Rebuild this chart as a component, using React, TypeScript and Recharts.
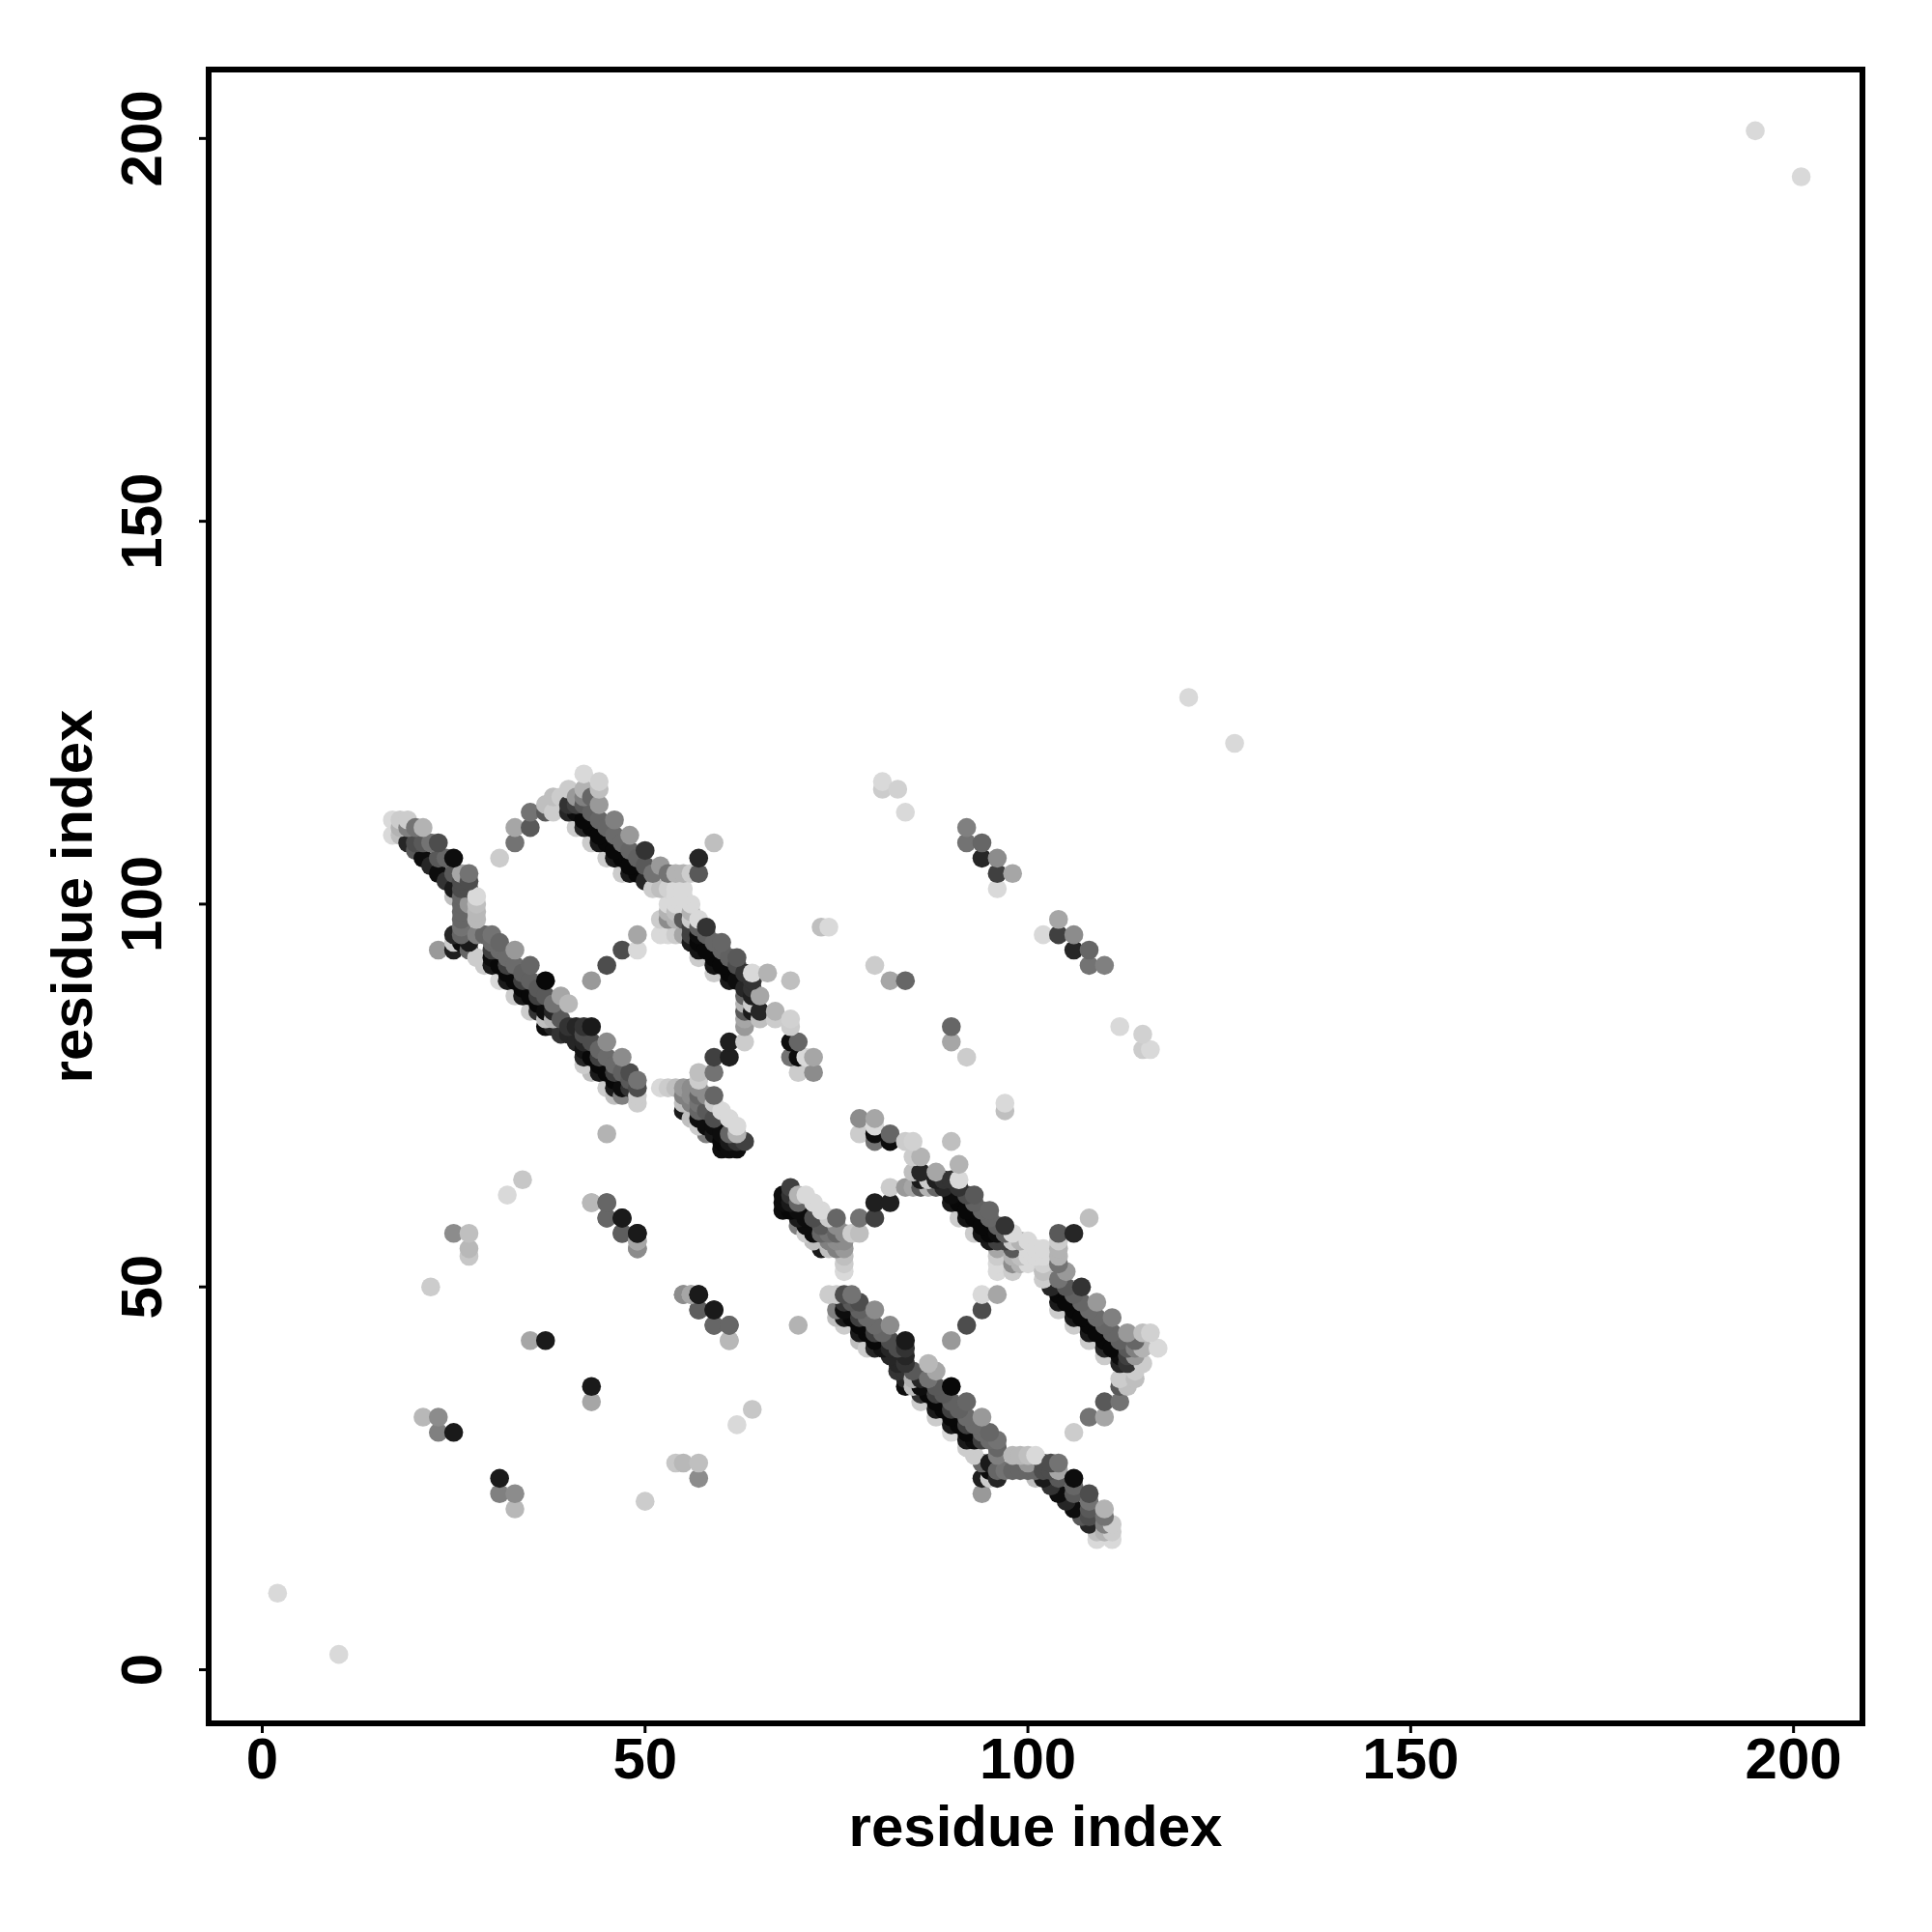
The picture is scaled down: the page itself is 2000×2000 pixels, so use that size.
import { ScatterChart, Scatter, XAxis, YAxis, ReferenceArea, Label } from 'recharts'

// contact map: [i, j, shade] with i < j, shade 0 = black, 1 = white
type Contact = [number, number, number]

const tickValues = [0, 50, 100, 150, 200]

const strandA: Contact[] = [
  [17, 111, 0.85], [18, 111, 0.8], [19, 111, 0.8], [17, 109, 0.85], [18, 109, 0.75], [18, 110, 0.7],
  [19, 110, 0.5], [20, 110, 0.45], [21, 110, 0.7], [19, 108, 0.15], [20, 107, 0.35], [20, 108, 0.3],
  [21, 108, 0.35], [22, 108, 0.45], [23, 108, 0.3], [21, 106, 0.05], [22, 105, 0.15],
  [23, 106, 0.35], [24, 106, 0.4], [25, 106, 0.05], [23, 104, 0.05], [25, 104, 0.35],
  [26, 104, 0.65], [27, 104, 0.45], [24, 103, 0.2], [25, 102, 0.1], [26, 102, 0.3], [27, 102, 0.3],
  [26, 103, 0.3], [27, 103, 0.3], [25, 101, 0.75], [26, 101, 0.4], [26, 100, 0.4], [26, 99, 0.4],
  [26, 98, 0.4], [26, 97, 0.45], [27, 100, 0.6], [28, 101, 0.85], [28, 100, 0.75], [28, 99, 0.72],
  [28, 98, 0.72], [28, 96, 0.5], [27, 95, 0.1], [26, 96, 0.4], [26, 95, 0.05], [25, 96, 0.15],
  [25, 94, 0.12], [25, 95, 0.8], [23, 94, 0.6], [27, 94, 0.4], [28, 93, 0.8],
]

const strandB: Contact[] = [
  [30, 96, 0.45], [31, 95, 0.4], [33, 94, 0.6], [35, 92, 0.4], [37, 90, 0.03], [39, 88, 0.65], [40, 87, 0.72],
  [29, 96, 0.4], [30, 95, 0.42], [31, 94, 0.42], [32, 93, 0.42], [33, 92, 0.42], [34, 91, 0.38],
  [35, 90, 0.38], [36, 89, 0.35], [37, 88, 0.35], [38, 87, 0.45],
  [30, 94, 0.25], [32, 92, 0.25], [34, 90, 0.25], [36, 88, 0.25], [38, 86, 0.15], [39, 85, 0.35],
  [30, 93, 0.05], [31, 92, 0.03], [32, 91, 0.03], [33, 90, 0.03], [34, 89, 0.03], [35, 88, 0.03], [36, 87, 0.03], [37, 86, 0.05],
  [30, 92, 0.1], [32, 90, 0.1], [34, 88, 0.1], [36, 86, 0.2],
  [29, 92, 0.8], [33, 88, 0.8], [35, 86, 0.8], [31, 90, 0.85],
  [37, 84, 0.05], [38, 84, 0.15], [39, 84, 0.2], [40, 84, 0.2], [41, 84, 0.15], [42, 84, 0.2], [43, 84, 0.1],
  [39, 83, 0.2], [40, 83, 0.15], [41, 82, 0.15], [42, 83, 0.3], [37, 85, 0.75], [38, 85, 0.7],
  [45, 82, 0.55], [47, 80, 0.55], [48, 78, 0.3], [49, 77, 0.45],
  [43, 82, 0.3], [44, 81, 0.4], [45, 80, 0.42], [46, 79, 0.42], [47, 78, 0.38], [48, 77, 0.35], [49, 76, 0.3],
  [42, 82, 0.15], [44, 80, 0.25], [46, 78, 0.25], [48, 76, 0.2],
  [42, 81, 0.08], [43, 80, 0.03], [44, 79, 0.03], [45, 78, 0.03], [46, 77, 0.03], [47, 76, 0.05],
  [42, 80, 0.15], [44, 78, 0.1], [46, 76, 0.1], [47, 75, 0.5],
  [43, 78, 0.75], [45, 76, 0.8], [42, 79, 0.8], [49, 75, 0.8], [46, 75, 0.75], [49, 74, 0.8],
]

const strandC: Contact[] = [
  [42, 117, 0.85], [44, 116, 0.82], [42, 115, 0.7], [44, 115, 0.75], [40, 115, 0.8], [39, 114, 0.8],
  [41, 114, 0.6], [42, 114, 0.5], [43, 114, 0.4], [44, 113, 0.6], [46, 111, 0.5],
  [48, 109, 0.6], [50, 107, 0.2], [52, 105, 0.6],
  [41, 113, 0.25], [42, 113, 0.35], [43, 112, 0.38], [44, 111, 0.4], [45, 110, 0.4], [46, 109, 0.42],
  [47, 108, 0.42], [48, 107, 0.4], [49, 106, 0.38], [50, 105, 0.35], [51, 104, 0.45],
  [41, 112, 0.05], [43, 110, 0.03], [45, 108, 0.03], [47, 106, 0.03], [49, 104, 0.03],
  [42, 111, 0.03], [44, 109, 0.03], [46, 107, 0.03], [48, 105, 0.03], [50, 103, 0.15],
  [42, 110, 0.15], [44, 108, 0.1], [46, 106, 0.1], [48, 104, 0.1], [40, 112, 0.15], [40, 113, 0.2],
  [41, 110, 0.8], [43, 108, 0.8], [45, 106, 0.8], [47, 104, 0.8],
  [53, 104, 0.45], [54, 104, 0.7], [55, 104, 0.7], [56, 104, 0.8], [57, 104, 0.35], [57, 106, 0.15], [59, 108, 0.75],
  [51, 102, 0.8], [52, 102, 0.75], [53, 102, 0.82], [54, 102, 0.85], [55, 102, 0.85],
  [53, 100, 0.85], [54, 100, 0.85], [55, 100, 0.85], [56, 100, 0.85], [55, 101, 0.85], [54, 101, 0.85],
  [54, 99, 0.75], [53, 99, 0.7], [52, 98, 0.8], [53, 98, 0.55], [54, 98, 0.7], [56, 99, 0.7], [57, 98, 0.85],
  [52, 96, 0.85], [53, 96, 0.85], [55, 96, 0.65], [54, 96, 0.8], [55, 98, 0.35],
  [58, 97, 0.2], [60, 95, 0.4], [62, 93, 0.35], [64, 91, 0.85],
  [56, 98, 0.8], [57, 97, 0.38], [58, 96, 0.38], [59, 95, 0.4], [60, 94, 0.4], [61, 93, 0.38],
  [62, 92, 0.3], [63, 91, 0.2], [64, 90, 0.2], [56, 97, 0.25], [56, 96, 0.25], [57, 96, 0.05],
  [57, 95, 0.03], [59, 93, 0.03], [61, 91, 0.03], [58, 94, 0.03], [60, 92, 0.03], [62, 90, 0.05],
  [63, 89, 0.15], [56, 95, 0.1], [57, 94, 0.08], [59, 92, 0.08], [61, 90, 0.1], [57, 93, 0.8], [59, 91, 0.8],
  [64, 89, 0.2], [64, 88, 0.12], [63, 88, 0.4], [65, 88, 0.65], [63, 87, 0.7], [64, 87, 0.8], [66, 91, 0.7],
  [63, 86, 0.35], [65, 86, 0.15], [64, 86, 0.1], [67, 86, 0.7], [65, 85, 0.75], [67, 85, 0.8], [69, 85, 0.82],
  [69, 84, 0.8], [63, 85, 0.65], [63, 84, 0.6], [63, 82, 0.8], [69, 90, 0.75],
  [69, 82, 0.05], [70, 82, 0.4], [69, 80, 0.45], [70, 80, 0.05], [71, 80, 0.85], [72, 80, 0.65], [72, 78, 0.55], [70, 78, 0.8],
  [61, 82, 0.12], [61, 80, 0.12], [59, 80, 0.25], [59, 78, 0.45], [57, 78, 0.75], [57, 77, 0.8],
]

const strandD: Contact[] = [
  [52, 76, 0.85], [53, 76, 0.8], [54, 76, 0.75], [55, 76, 0.6], [56, 76, 0.55], [57, 76, 0.55],
  [55, 75, 0.5], [55, 74, 0.75], [56, 75, 0.55], [59, 75, 0.4], [57, 75, 0.4], [58, 75, 0.55],
  [55, 73, 0.1], [56, 74, 0.5], [56, 72, 0.75], [57, 74, 0.45], [57, 73, 0.4], [57, 72, 0.05],
  [58, 73, 0.35], [58, 71, 0.05], [58, 70, 0.5], [59, 74, 0.8], [60, 73, 0.85], [61, 72, 0.85],
  [62, 71, 0.85], [59, 72, 0.3], [59, 71, 0.05], [59, 70, 0.1], [60, 70, 0.05], [60, 69, 0.03],
  [60, 68, 0.05], [61, 68, 0.05], [62, 68, 0.05], [61, 69, 0.1], [62, 69, 0.2], [63, 69, 0.25], [61, 70, 0.4],
  [62, 70, 0.7], [57, 71, 0.8],
]

const scattered: Contact[] = [
  [2, 10, 0.85], [121, 127, 0.85], [195, 201, 0.85],
  [37, 112, 0.35], [37, 113, 0.75], [38, 114, 0.75], [38, 112, 0.8], [35, 112, 0.45], [33, 110, 0.65],
  [35, 110, 0.35], [33, 108, 0.45], [31, 106, 0.8],
  [49, 96, 0.65], [49, 94, 0.85], [47, 94, 0.3], [45, 92, 0.3], [43, 90, 0.6], [45, 70, 0.7],
  [34, 64, 0.78], [32, 62, 0.85], [43, 61, 0.72], [45, 61, 0.4], [45, 59, 0.42], [47, 59, 0.1],
  [47, 57, 0.35], [49, 57, 0.1], [49, 56, 0.65], [49, 55, 0.55],
  [25, 57, 0.55], [27, 57, 0.75], [27, 55, 0.72], [27, 54, 0.78], [22, 50, 0.8],
  [55, 49, 0.55], [56, 49, 0.65], [57, 49, 0.1], [57, 47, 0.37], [59, 47, 0.1], [59, 45, 0.4],
  [61, 45, 0.4], [61, 43, 0.72], [35, 43, 0.65], [37, 43, 0.1],
  [21, 33, 0.72], [23, 33, 0.55], [23, 31, 0.5], [25, 31, 0.1],
  [81, 116, 0.85], [81, 115, 0.8], [83, 115, 0.82], [84, 112, 0.85],
  [92, 110, 0.5], [92, 108, 0.45], [94, 108, 0.4], [94, 106, 0.15], [96, 106, 0.55], [96, 104, 0.25],
  [98, 104, 0.65], [96, 102, 0.85], [73, 97, 0.75], [74, 97, 0.85],
  [80, 92, 0.8], [82, 90, 0.65], [84, 90, 0.4],
]

const contacts = [...strandA, ...strandB, ...strandC, ...strandD, ...scattered]

// the map is symmetric, both triangles get drawn, low i+j first so upper edges sit on top
const points = contacts
  .flatMap(([i, j, shade]) => [
    { x: i, y: j, shade },
    { x: j, y: i, shade },
  ])
  .sort((a, b) => a.x + a.y - (b.x + b.y))

const FONT = '"Liberation Sans", Arial, sans-serif'

const Dot = (props: any) => {
  const g = Math.round(props.payload.shade * 255)
  return <circle cx={props.cx} cy={props.cy} r={9.8} fill={`rgb(${g},${g},${g})`} />
}

const XTick = ({ x, y, payload }: any) => (
  <text x={x} y={y + 45} textAnchor="middle" fontFamily={FONT} fontWeight="bold" fontSize={60} fill="#000">
    {payload.value}
  </text>
)

const YTick = ({ x, y, payload }: any) => (
  <text
    transform={`translate(${x - 37},${y}) rotate(-90)`}
    textAnchor="middle"
    fontFamily={FONT}
    fontWeight="bold"
    fontSize={60}
    fill="#000"
  >
    {payload.value}
  </text>
)

export default function App() {
  return (
    <div style={{ position: 'absolute', left: 0, top: 0, width: 2000, height: 2000, background: '#fff' }}>
      <ScatterChart width={2000} height={2000} margin={{ top: 72, right: 72, left: 0, bottom: 0 }}>
        <XAxis
          type="number"
          dataKey="x"
          domain={[-7, 209]}
          ticks={tickValues}
          interval={0}
          height={216}
          axisLine={false}
          tickLine={{ stroke: '#000', strokeWidth: 3 }}
          tickSize={10}
          tick={<XTick />}
        >
          <Label
            value="residue index"
            position="insideBottom"
            offset={89}
            fontFamily={FONT}
            fontWeight="bold"
            fontSize={60}
            fill="#000"
          />
        </XAxis>
        <YAxis
          type="number"
          dataKey="y"
          domain={[-7, 209]}
          ticks={tickValues}
          interval={0}
          width={216}
          axisLine={false}
          tickLine={{ stroke: '#000', strokeWidth: 3 }}
          tickSize={10}
          tick={<YTick />}
        >
          <Label
            value="residue index"
            angle={-90}
            position="insideLeft"
            offset={74}
            textAnchor="middle"
            fontFamily={FONT}
            fontWeight="bold"
            fontSize={60}
            fill="#000"
          />
        </YAxis>
        <Scatter data={points} isAnimationActive={false} shape={<Dot />} />
        <ReferenceArea
          x1={-7}
          x2={209}
          y1={-7}
          y2={209}
          ifOverflow="visible"
          fill="none"
          stroke="#000"
          strokeWidth={6}
        />
      </ScatterChart>
    </div>
  )
}
